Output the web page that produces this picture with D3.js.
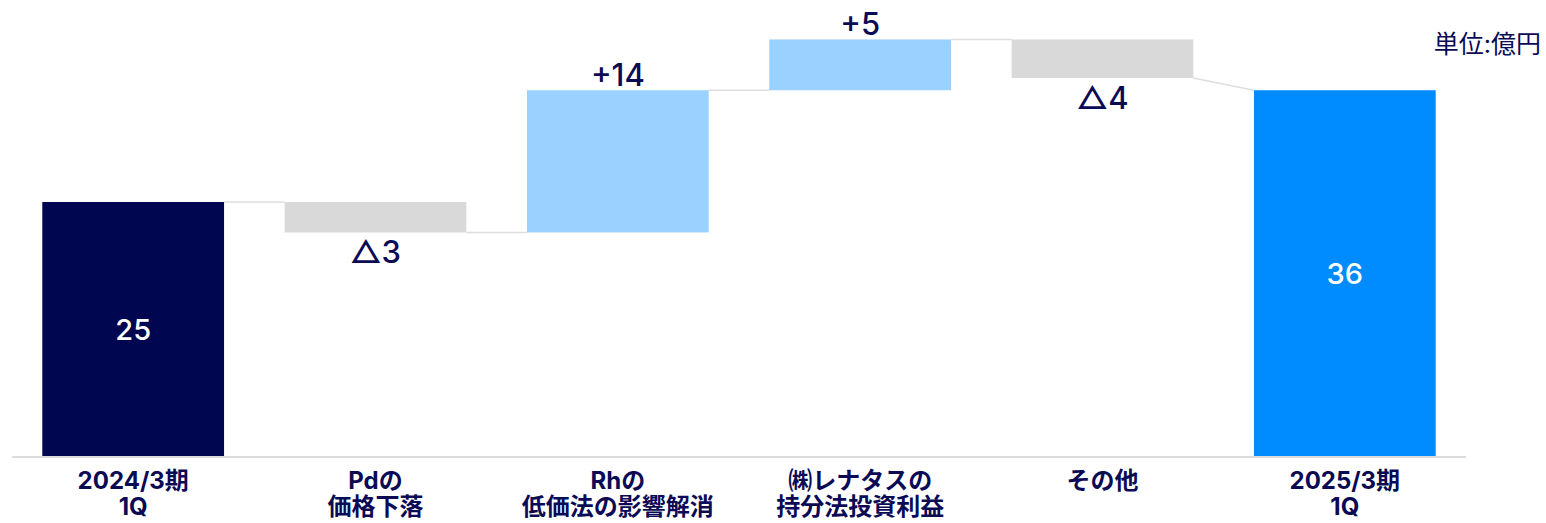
<!DOCTYPE html>
<html><head><meta charset="utf-8">
<script src="https://cdn.jsdelivr.net/npm/d3@7"></script>
<style>body{margin:0;background:#fff}svg{display:block}text{font-family:Inter,"Noto Sans CJK JP",sans-serif}</style>
</head><body><svg id="c" width="1546" height="523"></svg>
<script>
const categories = [["2024/3期","1Q"],["Pdの","価格下落"],["Rhの","低価法の影響解消"],["㈱レナタスの","持分法投資利益"],["その他"],["2025/3期","1Q"]];
const startValue = 25;
const deltas = [-3, 14, 5, -3.8];
const endValue = 36;
const valueLabels = ["25","△3","+14","+5","△4","36"];
const unitLabel = "単位:億円";

const svg=d3.select("#c");
const x=d3.scaleBand().domain(d3.range(categories.length)).range([12,1466]).paddingInner(0.25).paddingOuter(0.125);
const y=d3.scaleLinear().domain([0,25]).range([456,202]);

const steps=[];
steps.push({i:0,y0:0,y1:startValue,type:"total",color:"#000650"});
let cur=startValue;
deltas.forEach((d,k)=>{steps.push({i:k+1,y0:cur,y1:cur+d,type:d>=0?"up":"down",color:d>=0?"#9bd1ff":"#d9d9d9"});cur+=d;});
steps.push({i:categories.length-1,y0:0,y1:endValue,type:"total",color:"#008cff"});

for(let k=0;k<steps.length-1;k++){
  const a=steps[k],b=steps[k+1];
  const bStart = b.type==="total"? b.y1 : b.y0;
  svg.append("line").attr("x1",x(a.i)+x.bandwidth()).attr("x2",x(b.i))
    .attr("y1",y(a.y1)).attr("y2",y(bStart)).attr("stroke","#dedede").attr("stroke-width",1.5);
}
svg.append("line").attr("x1",12).attr("x2",1466).attr("y1",y(0)+1).attr("y2",y(0)+1).attr("stroke","#dcdcdc").attr("stroke-width",2);

svg.selectAll("rect.b").data(steps).join("rect")
  .attr("x",d=>x(d.i)).attr("width",x.bandwidth())
  .attr("y",d=>y(Math.max(d.y0,d.y1))).attr("height",d=>Math.abs(y(d.y0)-y(d.y1)))
  .attr("fill",d=>d.color);

steps.forEach((d,k)=>{
  const cx=x(d.i)+x.bandwidth()/2;
  let ty,fill="#0a0a55",fs=31;
  if(d.type==="total"){ty=(y(d.y0)+y(d.y1))/2+11;fill="#fff";fs=29;}
  else if(d.type==="up"){ty=y(d.y1)-4;}
  else {ty=y(d.y1)+31;}
  svg.append("text").attr("x",cx).attr("y",ty).attr("text-anchor","middle")
    .attr("font-size",fs).attr("font-weight",500).attr("fill",fill).text(valueLabels[k]);
});

categories.forEach((lines,i)=>{
  lines.forEach((l,j)=>svg.append("text").attr("x",x(i)+x.bandwidth()/2).attr("y",489+j*26)
    .attr("text-anchor","middle").attr("font-size",24).attr("font-weight",700).attr("fill","#0a0a55").text(l));
});

svg.append("text").attr("x",1541).attr("y",53).attr("text-anchor","end").attr("font-size",25)
  .attr("fill","#0a0a55").text(unitLabel);
</script></body></html>
